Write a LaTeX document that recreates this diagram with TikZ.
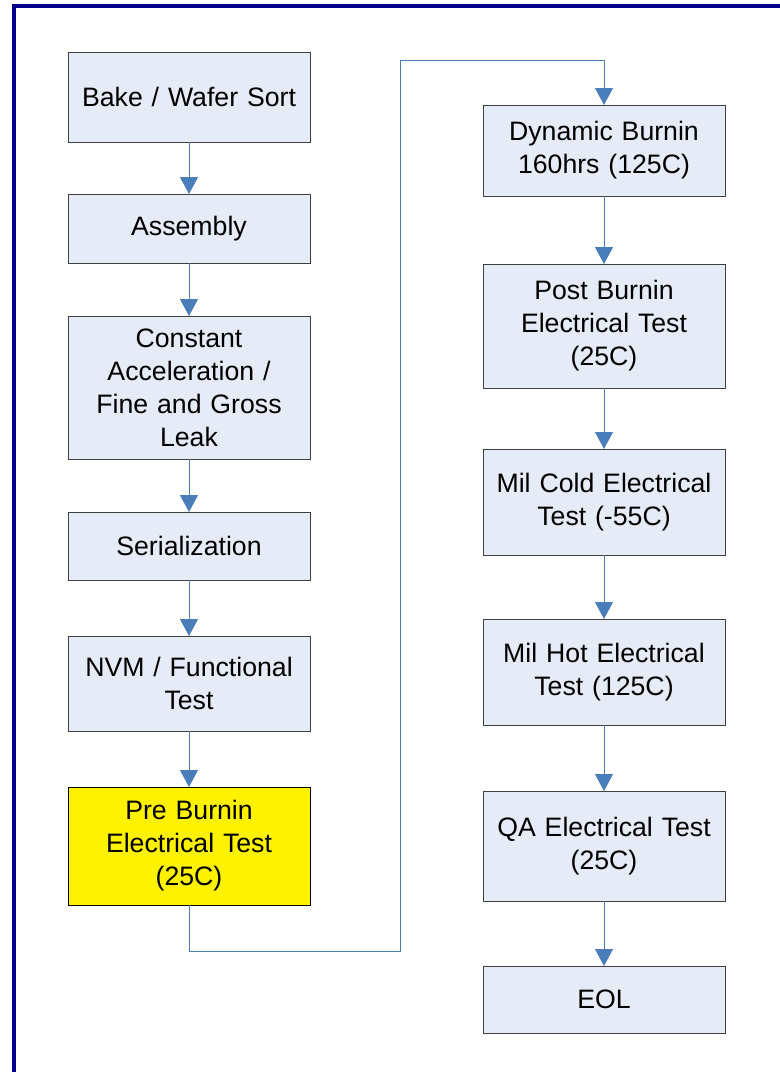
\documentclass[tikz,border=0pt]{standalone}
\usepackage{fontspec}
\setmainfont{Liberation Sans}
\usetikzlibrary{positioning,arrows.meta}
\definecolor{boxfill}{RGB}{230,236,247}
\definecolor{linkblue}{RGB}{74,126,187}
\definecolor{framenavy}{RGB}{0,0,140}
\definecolor{boxedge}{RGB}{64,64,64}

\begin{document}
\begin{tikzpicture}[
  stage/.style={draw=boxedge, line width=0.75pt, fill=boxfill, align=center, text width=170pt, inner xsep=5.75pt, inner ysep=0pt, outer sep=0pt, font=\fontsize{20}{24.75}\selectfont},
  prestage/.style={stage, fill=yellow, draw=black},
  arrow/.style={-{Triangle[length=12.75pt,width=13.5pt]}, line width=0.75pt, color=linkblue}
]
  \useasboundingbox (0,0) rectangle (585pt,-804pt);
  \draw[framenavy, line width=2.3pt] (10.5pt,-4.5pt) rectangle (620pt,-840pt);

  \node[stage, minimum height=67.5pt] (bake) at (141.75pt,-72.75pt) {Bake / Wafer Sort};
  \node[stage, minimum height=51.75pt, below=39pt of bake] (assembly) {Assembly};
  \node[stage, minimum height=107.25pt, below=39.75pt of assembly] (leak) {Constant\\Acceleration /\\Fine and Gross\\Leak};
  \node[stage, minimum height=51pt, below=39.75pt of leak] (serial) {Serialization};
  \node[stage, minimum height=71.25pt, below=42pt of serial] (nvm) {NVM / Functional\\Test};
  \node[prestage, minimum height=88.5pt, below=42pt of nvm] (preburn) {Pre Burnin\\Electrical Test\\(25C)};

  \node[stage, minimum height=68.25pt] (dynburn) at (453pt,-112.875pt) {Dynamic Burnin\\160hrs (125C)};
  \node[stage, minimum height=93pt, below=51pt of dynburn] (postburn) {Post Burnin\\Electrical Test\\(25C)};
  \node[stage, minimum height=79.5pt, below=45.75pt of postburn] (milcold) {Mil Cold Electrical\\Test (-55C)};
  \node[stage, minimum height=79.5pt, below=48pt of milcold] (milhot) {Mil Hot Electrical\\Test (125C)};
  \node[stage, minimum height=82.5pt, below=49.5pt of milhot] (qatest) {QA Electrical Test\\(25C)};
  \node[stage, minimum height=50.25pt, below=48.75pt of qatest] (eol) {EOL};

  \coordinate (looplow) at (300pt,-713.25pt);
  \coordinate (loophigh) at (300pt,-45pt);

  \draw[arrow] (bake) -- (assembly);
  \draw[arrow] (assembly) -- (leak);
  \draw[arrow] (leak) -- (serial);
  \draw[arrow] (serial) -- (nvm);
  \draw[arrow] (nvm) -- (preburn);
  \draw[arrow] (preburn.south) |- (looplow) -- (loophigh) -| (dynburn.north);
  \draw[arrow] (dynburn) -- (postburn);
  \draw[arrow] (postburn) -- (milcold);
  \draw[arrow] (milcold) -- (milhot);
  \draw[arrow] (milhot) -- (qatest);
  \draw[arrow] (qatest) -- (eol);
\end{tikzpicture}
\end{document}
